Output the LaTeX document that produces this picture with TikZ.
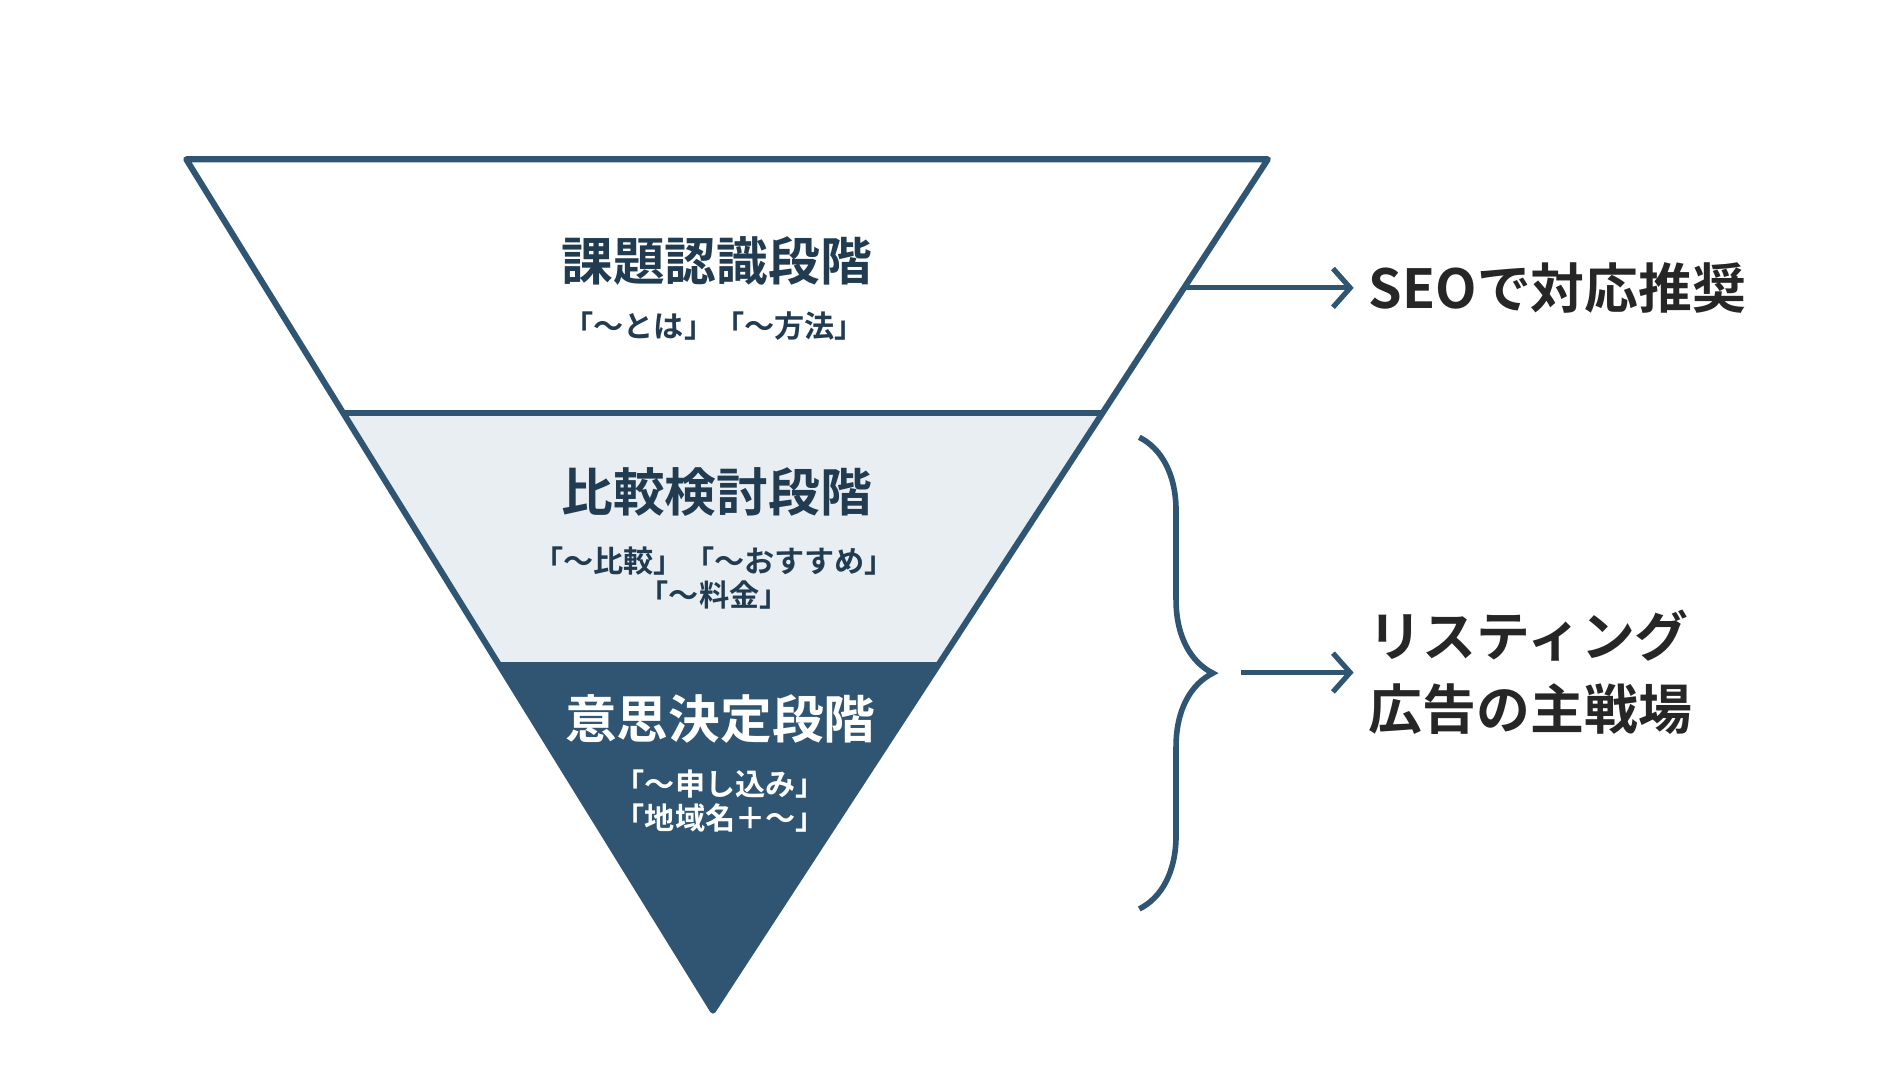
\documentclass[tikz,border=0pt]{standalone}
\usepackage{fontspec}
\setmainfont{Noto Sans CJK JP Bold}
\usetikzlibrary{arrows.meta,decorations.pathreplacing}
\definecolor{funnel}{HTML}{2F5573}
\definecolor{band}{HTML}{E9EEF2}
\begin{document}
\begin{tikzpicture}[x=0.01cm,y=-0.01cm,
    edge/.style={draw=funnel,line width=1.4pt,line join=round},
    title/.style={font=\fontsize{12}{14}\selectfont,text=funnel!70!black},
    sub/.style={font=\fontsize{7}{9}\selectfont,text=funnel!70!black,align=center},
    side/.style={font=\fontsize{12.5}{17}\selectfont,text=black!85,align=left,anchor=west},
    link/.style={draw=funnel,line width=1.2pt,-{Straight Barb[length=4pt,width=9pt]}}]
    % Rahmen
    \useasboundingbox (0,0) rectangle (1551,873);
    \fill[white] (0,0) rectangle (1551,873);

    % Trichter
    \coordinate (tl) at (152,130);
    \coordinate (tr) at (1035,130);
    \coordinate (apex) at (582,825);
    \coordinate (al) at (280,337);
    \coordinate (ar) at (900,337);
    \coordinate (bl) at (407,543);
    \coordinate (br) at (766,543);
    \fill[band] (al) -- (ar) -- (br) -- (bl) -- cycle;
    \fill[funnel] (bl) -- (br) -- (apex) -- cycle;
    \draw[edge] (tl) -- (tr) -- (apex) -- cycle;
    \draw[edge] (al) -- (ar);
    \draw[edge] (bl) -- (br);

    % Stufen
    \node[title] (s1) at (585,213) {課題認識段階};
    \node[sub] (s1k) at (583,266) {「～とは」「～方法」};
    \node[title] (s2) at (585,402) {比較検討段階};
    \node[sub] (s2k) at (583,472) {「～比較」「～おすすめ」\\[-1pt]「～料金」};
    \node[title,text=white] (s3) at (588,587) {意思決定段階};
    \node[sub,text=white] (s3k) at (588,654) {「～申し込み」\\[-1pt]「地域名＋～」};

    % Rechte Seite
    \coordinate (a1s) at (968,235);
    \node[side] (seo) at (1105,235) {SEOで対応推奨};
    \draw[link] (a1s) -- (seo.west);
    \coordinate (bt) at (930,357);
    \coordinate (bb) at (930,742);
    \draw[funnel,line width=1.3pt,decoration={brace,amplitude=0.6cm,raise=0pt}]
        [decorate] (bt) -- (bb);
    \coordinate (a2s) at (1013,549);
    \node[side] (ads) at (1105,549) {リスティング\\広告の主戦場};
    \draw[link] (a2s) -- (ads.west);
\end{tikzpicture}
\end{document}
